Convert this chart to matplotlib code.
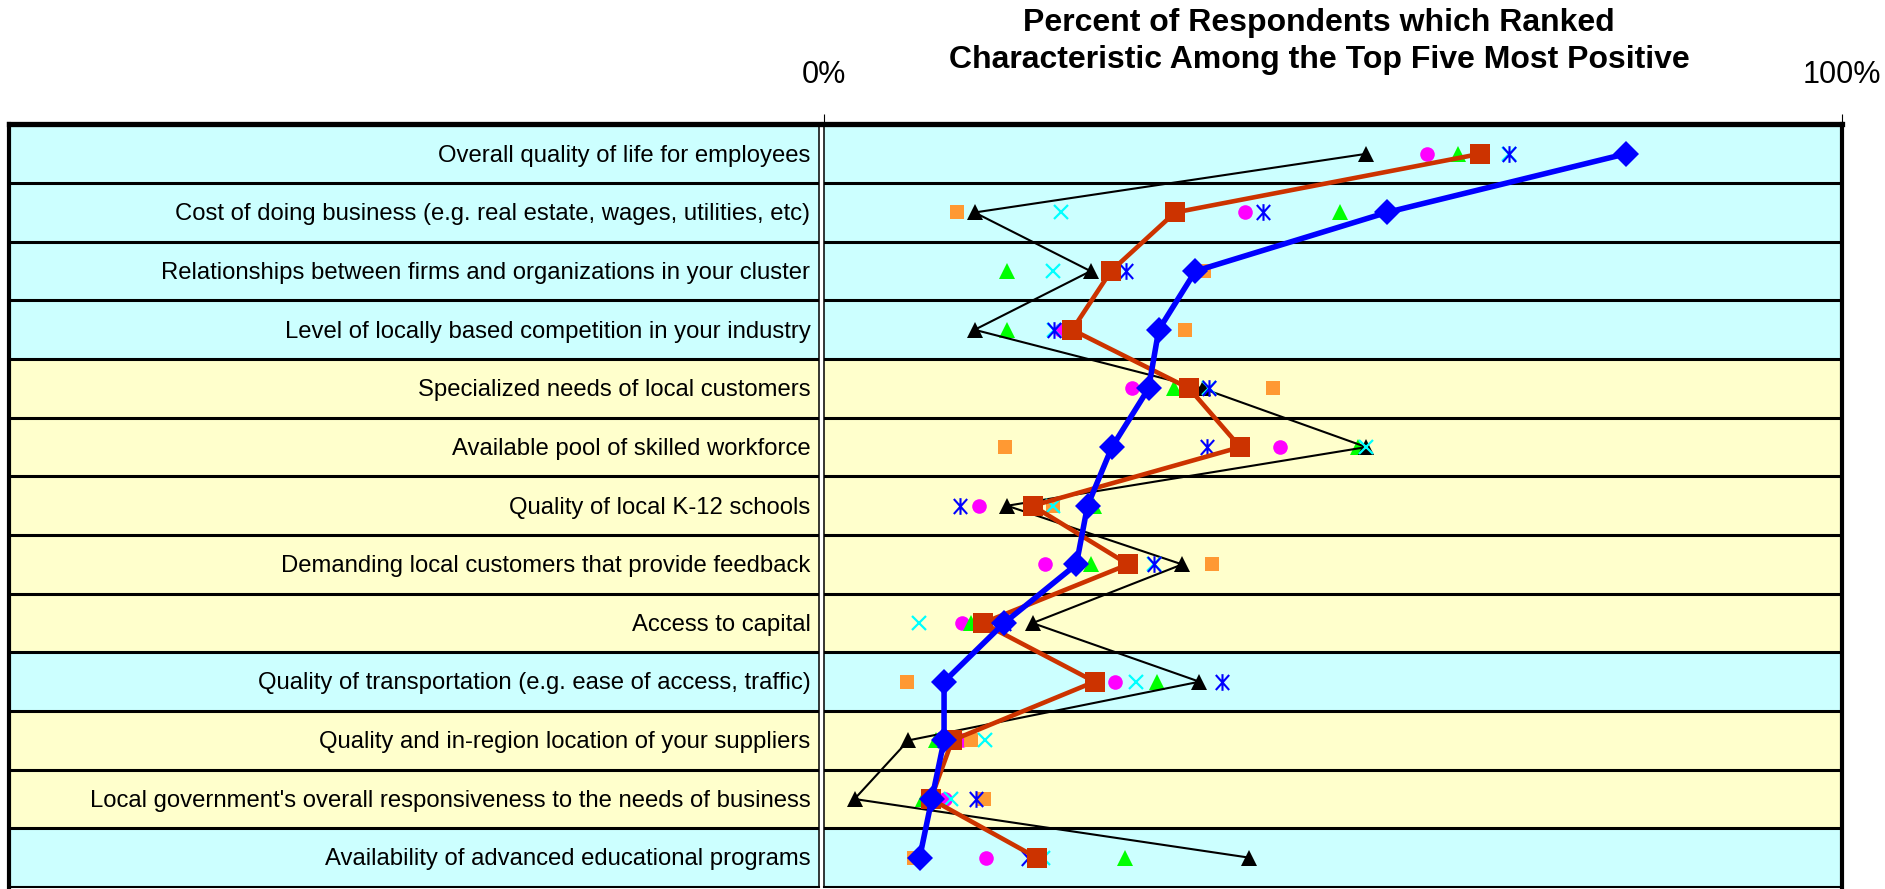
import matplotlib
matplotlib.use("Agg")
import matplotlib.pyplot as plt
from matplotlib.path import Path
import numpy as np

plt.rcParams['font.family'] = ['Liberation Sans', 'DejaVu Sans']

# characteristics, top to bottom
labels = [
    "Overall quality of life for employees",
    "Cost of doing business (e.g. real estate, wages, utilities, etc)",
    "Relationships between firms and organizations in your cluster",
    "Level of locally based competition in your industry",
    "Specialized needs of local customers",
    "Available pool of skilled workforce",
    "Quality of local K-12 schools",
    "Demanding local customers that provide feedback",
    "Access to capital",
    "Quality of transportation (e.g. ease of access, traffic)",
    "Quality and in-region location of your suppliers",
    "Local government's overall responsiveness to the needs of business",
    "Availability of advanced educational programs",
]
row_colors = ['#CCFFFF'] * 4 + ['#FFFFCC'] * 5 + ['#CCFFFF', '#FFFFCC', '#FFFFCC', '#CCFFFF']

# percent of respondents, one value per characteristic
blue = [78.8, 55.3, 36.5, 32.9, 31.9, 28.3, 25.9, 24.8, 17.7, 11.8, 11.8, 10.6, 9.4]
red = [64.5, 34.5, 28.2, 24.4, 35.9, 40.9, 20.5, 29.9, 15.6, 26.6, 12.6, 10.5, 20.9]
black = [53.3, 14.8, 26.2, 14.8, 37.2, 53.3, 18.0, 35.2, 20.5, 36.9, 8.3, 3.0, 41.8]
magenta = [59.3, 41.4, 28.2, 23.3, 30.3, 44.8, 15.2, 21.7, 13.6, 28.6, 13.6, 11.9, 15.9]
green = [62.3, 50.7, 18.0, 18.0, 34.4, 52.5, 26.5, 26.2, 14.4, 32.7, 11.0, 9.7, 29.6]
orange = [64.5, 13.1, 37.3, 35.5, 44.1, 17.8, 22.5, 38.1, 15.6, 8.2, 14.4, 15.7, 8.8]
cyan = [67.3, 23.3, 22.5, 22.6, 37.8, 53.3, 22.5, 32.4, 9.3, 30.7, 15.8, 12.5, 21.5]
aster = [67.3, 43.1, 29.7, 22.6, 37.8, 37.6, 13.4, 32.4, 17.7, 39.1, 11.8, 14.9, 20.0]

n = len(labels)
ypos = np.arange(n) + 0.5

# excel style asterisk: an X with a vertical bar
star = Path([(0, -1), (0, 1), (-0.8, -0.9), (0.8, 0.9), (-0.8, 0.9), (0.8, -0.9)],
            [Path.MOVETO, Path.LINETO] * 3)

W, H = 1885, 889
fig = plt.figure(figsize=(W / 100, H / 100), dpi=100)
fig.patch.set_facecolor('white')

top = 124.5
bot = 887
ax_tab = fig.add_axes([9 / W, 1 - bot / H, (819 - 9) / W, (bot - top) / H])
ax = fig.add_axes([824 / W, 1 - bot / H, (1841.5 - 824) / W, (bot - top) / H])

for a in (ax_tab, ax):
    a.set_ylim(n, 0)
    for i in range(n):
        a.axhspan(i, i + 1, color=row_colors[i], lw=0, zorder=0)
    for i in range(1, n):
        a.axhline(i, color='black', lw=2.2, zorder=1)
    a.set_yticks([])

# label table
ax_tab.set_xlim(0, 1)
ax_tab.set_xticks([])
for i, lab in enumerate(labels):
    ax_tab.text(0.9895, ypos[i] + 0.03, lab, ha='right', va='center', fontsize=17.2)
ax_tab.spines['left'].set_linewidth(3)
ax_tab.spines['top'].set_linewidth(3.8)
ax_tab.spines['right'].set_linewidth(1.1)
ax_tab.spines['bottom'].set_linewidth(1.5)

# plot area
ax.set_xlim(0, 100)
ax.xaxis.tick_top()
ax.set_xticks([0, 100])
ax.set_xticklabels(['0%', '100%'])
ax.tick_params(axis='x', length=7.5, width=0.8, pad=17, labelsize=22)
ax.spines['right'].set_linewidth(3)
ax.spines['top'].set_linewidth(3.8)
ax.spines['left'].set_linewidth(1.1)
ax.spines['bottom'].set_linewidth(1.5)

ax.plot(magenta, ypos, 'o', color='#FF00FF', ms=10.5, mew=0, zorder=3)
ax.plot(green, ypos, '^', color='#00FF00', ms=12, mew=0, zorder=3)
ax.plot(black, ypos, '-^', color='black', lw=1.5, ms=11.5, mew=0, zorder=4)
ax.plot(orange, ypos, 's', color='#FF9933', ms=10, mew=0, zorder=5)
ax.plot(cyan, ypos, 'x', color='#00FFFF', ms=10.5, mew=1.6, zorder=5)
ax.plot(aster, ypos, linestyle='none', marker=star, color='#0000FF', ms=12, mew=1.5, zorder=5)
ax.plot(red, ypos, '-s', color='#CC3300', lw=3.3, ms=14, mew=0, zorder=6)
ax.plot(blue, ypos, '-D', color='#0000FF', lw=4, ms=13.5, mew=0, zorder=7)

fig.text(1319 / W, 1 - 41.5 / H,
         "Percent of Respondents which Ranked\nCharacteristic Among the Top Five Most Positive",
         ha='center', va='center', fontsize=23, fontweight='bold', linespacing=1.28)

fig.savefig('out.png', dpi=100)
